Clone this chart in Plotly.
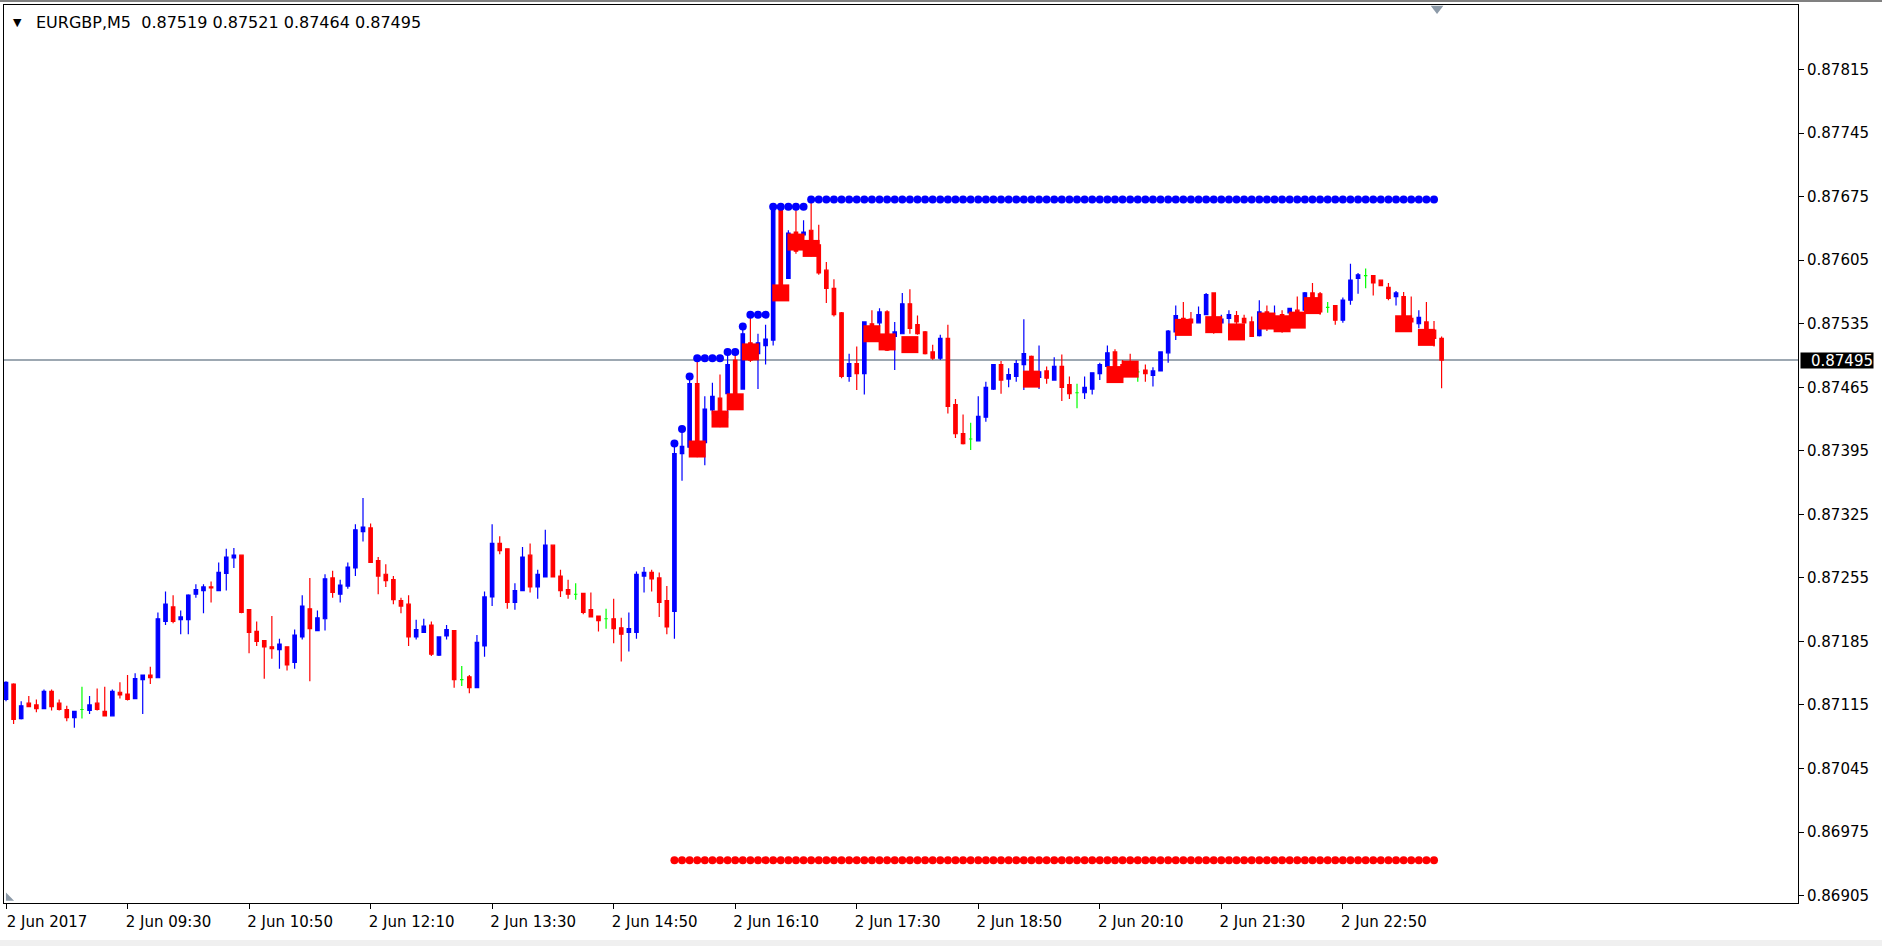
import plotly.graph_objects as go

# ---------------- data (EURGBP, M5, 2 Jun 2017 08:10 .. 23:55) ----------------
opens = [
    0.87121, 0.87138, 0.87100, 0.87117, 0.87115, 0.87111, 0.87130, 0.87117, 0.87110, 0.87101,
    0.87110, 0.87109, 0.87117, 0.87108, 0.87103, 0.87129, 0.87127, 0.87122, 0.87143, 0.87148,
    0.87145, 0.87207, 0.87223, 0.87209, 0.87209, 0.87237, 0.87241, 0.87245, 0.87241, 0.87260,
    0.87277, 0.87280, 0.87220, 0.87196, 0.87186, 0.87179, 0.87176, 0.87179, 0.87162, 0.87190,
    0.87221, 0.87197, 0.87210, 0.87255, 0.87237, 0.87246, 0.87266, 0.87306, 0.87310, 0.87274,
    0.87259, 0.87253, 0.87230, 0.87226, 0.87190, 0.87195, 0.87203, 0.87170, 0.87191, 0.87197,
    0.87143, 0.87146, 0.87134, 0.87180, 0.87234, 0.87293, 0.87287, 0.87228, 0.87241, 0.87280,
    0.87245, 0.87256, 0.87291, 0.87257, 0.87242, 0.87237, 0.87238, 0.87220, 0.87213, 0.87210,
    0.87210, 0.87200, 0.87195, 0.87195, 0.87257, 0.87261, 0.87255, 0.87230, 0.87218, 0.87392,
    0.87399, 0.87469, 0.87404, 0.87440, 0.87453, 0.87458, 0.87495, 0.87463, 0.87514, 0.87502,
    0.87511, 0.87517, 0.87660, 0.87585, 0.87636, 0.87633, 0.87638, 0.87622, 0.87594, 0.87574,
    0.87547, 0.87477, 0.87491, 0.87480, 0.87535, 0.87536, 0.87548, 0.87521, 0.87524, 0.87557,
    0.87534, 0.87526, 0.87504, 0.87497, 0.87519, 0.87446, 0.87414, 0.87408, 0.87406, 0.87432,
    0.87463, 0.87490, 0.87474, 0.87477, 0.87490, 0.87499, 0.87476, 0.87483, 0.87473, 0.87488,
    0.87468, 0.87459, 0.87459, 0.87463, 0.87480, 0.87488, 0.87504, 0.87490, 0.87493, 0.87482,
    0.87484, 0.87478, 0.87483, 0.87503, 0.87526, 0.87541, 0.87540, 0.87536, 0.87545, 0.87569,
    0.87536, 0.87541, 0.87544, 0.87541, 0.87537, 0.87522, 0.87548, 0.87530, 0.87545, 0.87547,
    0.87550, 0.87550, 0.87569, 0.87568, 0.87553, 0.87555, 0.87539, 0.87561, 0.87585, 0.87588,
    0.87588, 0.87583, 0.87575, 0.87565, 0.87565, 0.87541, 0.87535, 0.87537, 0.87528, 0.87519,
]
highs = [
    0.87141, 0.87139, 0.87119, 0.87125, 0.87121, 0.87132, 0.87132, 0.87121, 0.87114, 0.87108,
    0.87135, 0.87125, 0.87133, 0.87135, 0.87132, 0.87140, 0.87148, 0.87150, 0.87148, 0.87157,
    0.87217, 0.87240, 0.87236, 0.87219, 0.87237, 0.87248, 0.87248, 0.87251, 0.87272, 0.87287,
    0.87288, 0.87280, 0.87220, 0.87207, 0.87186, 0.87213, 0.87188, 0.87179, 0.87198, 0.87236,
    0.87255, 0.87219, 0.87259, 0.87263, 0.87253, 0.87272, 0.87314, 0.87343, 0.87315, 0.87278,
    0.87270, 0.87257, 0.87233, 0.87236, 0.87209, 0.87210, 0.87207, 0.87190, 0.87203, 0.87197,
    0.87158, 0.87148, 0.87192, 0.87240, 0.87314, 0.87301, 0.87287, 0.87249, 0.87289, 0.87293,
    0.87264, 0.87308, 0.87291, 0.87264, 0.87253, 0.87249, 0.87238, 0.87239, 0.87213, 0.87221,
    0.87232, 0.87211, 0.87217, 0.87262, 0.87267, 0.87264, 0.87261, 0.87246, 0.87403, 0.87419,
    0.87477, 0.87497, 0.87455, 0.87470, 0.87479, 0.87504, 0.87502, 0.87532, 0.87545, 0.87524,
    0.87534, 0.87664, 0.87661, 0.87638, 0.87660, 0.87649, 0.87672, 0.87644, 0.87603, 0.87584,
    0.87548, 0.87502, 0.87510, 0.87537, 0.87550, 0.87552, 0.87550, 0.87537, 0.87569, 0.87573,
    0.87544, 0.87527, 0.87512, 0.87523, 0.87534, 0.87452, 0.87435, 0.87426, 0.87455, 0.87471,
    0.87490, 0.87494, 0.87486, 0.87495, 0.87540, 0.87500, 0.87511, 0.87488, 0.87498, 0.87501,
    0.87477, 0.87469, 0.87477, 0.87481, 0.87492, 0.87511, 0.87507, 0.87495, 0.87502, 0.87485,
    0.87490, 0.87487, 0.87504, 0.87528, 0.87555, 0.87559, 0.87548, 0.87554, 0.87569, 0.87569,
    0.87545, 0.87550, 0.87549, 0.87545, 0.87543, 0.87561, 0.87555, 0.87555, 0.87550, 0.87552,
    0.87565, 0.87570, 0.87580, 0.87570, 0.87559, 0.87555, 0.87564, 0.87601, 0.87591, 0.87596,
    0.87588, 0.87583, 0.87580, 0.87571, 0.87570, 0.87565, 0.87550, 0.87559, 0.87538, 0.87521,
]
lows = [
    0.87119, 0.87094, 0.87099, 0.87113, 0.87107, 0.87111, 0.87109, 0.87109, 0.87097, 0.87090,
    0.87100, 0.87105, 0.87109, 0.87103, 0.87103, 0.87122, 0.87120, 0.87122, 0.87105, 0.87138,
    0.87145, 0.87203, 0.87205, 0.87193, 0.87193, 0.87233, 0.87216, 0.87228, 0.87241, 0.87241,
    0.87266, 0.87216, 0.87172, 0.87180, 0.87144, 0.87166, 0.87155, 0.87153, 0.87155, 0.87187,
    0.87141, 0.87197, 0.87197, 0.87233, 0.87228, 0.87243, 0.87257, 0.87295, 0.87272, 0.87237,
    0.87245, 0.87226, 0.87216, 0.87180, 0.87187, 0.87195, 0.87169, 0.87169, 0.87187, 0.87134,
    0.87136, 0.87128, 0.87134, 0.87168, 0.87224, 0.87281, 0.87221, 0.87220, 0.87241, 0.87239,
    0.87232, 0.87256, 0.87256, 0.87234, 0.87232, 0.87231, 0.87215, 0.87212, 0.87196, 0.87199,
    0.87183, 0.87163, 0.87174, 0.87188, 0.87239, 0.87240, 0.87212, 0.87193, 0.87188, 0.87362,
    0.87395, 0.87388, 0.87379, 0.87435, 0.87421, 0.87431, 0.87440, 0.87463, 0.87493, 0.87463,
    0.87490, 0.87511, 0.87560, 0.87585, 0.87612, 0.87630, 0.87609, 0.87589, 0.87558, 0.87543,
    0.87475, 0.87471, 0.87462, 0.87457, 0.87517, 0.87532, 0.87505, 0.87484, 0.87524, 0.87524,
    0.87523, 0.87501, 0.87495, 0.87495, 0.87436, 0.87409, 0.87402, 0.87396, 0.87406, 0.87427,
    0.87462, 0.87458, 0.87465, 0.87471, 0.87462, 0.87468, 0.87463, 0.87469, 0.87473, 0.87450,
    0.87452, 0.87442, 0.87452, 0.87457, 0.87473, 0.87487, 0.87478, 0.87475, 0.87480, 0.87471,
    0.87471, 0.87466, 0.87483, 0.87492, 0.87517, 0.87525, 0.87535, 0.87536, 0.87545, 0.87524,
    0.87535, 0.87532, 0.87533, 0.87535, 0.87521, 0.87521, 0.87527, 0.87528, 0.87525, 0.87530,
    0.87532, 0.87548, 0.87561, 0.87545, 0.87547, 0.87534, 0.87536, 0.87556, 0.87568, 0.87574,
    0.87566, 0.87577, 0.87561, 0.87555, 0.87528, 0.87536, 0.87530, 0.87526, 0.87510, 0.87464,
]
closes = [
    0.87140, 0.87099, 0.87114, 0.87113, 0.87111, 0.87130, 0.87113, 0.87110, 0.87101, 0.87108,
    0.87110, 0.87115, 0.87110, 0.87103, 0.87130, 0.87126, 0.87121, 0.87144, 0.87148, 0.87145,
    0.87210, 0.87226, 0.87207, 0.87212, 0.87236, 0.87242, 0.87245, 0.87244, 0.87261, 0.87278,
    0.87280, 0.87217, 0.87195, 0.87185, 0.87179, 0.87177, 0.87182, 0.87159, 0.87192, 0.87224,
    0.87199, 0.87211, 0.87254, 0.87239, 0.87247, 0.87267, 0.87308, 0.87311, 0.87272, 0.87257,
    0.87252, 0.87231, 0.87224, 0.87190, 0.87198, 0.87202, 0.87171, 0.87190, 0.87198, 0.87143,
    0.87143, 0.87134, 0.87184, 0.87234, 0.87293, 0.87285, 0.87228, 0.87241, 0.87278, 0.87245,
    0.87259, 0.87291, 0.87256, 0.87241, 0.87237, 0.87237, 0.87217, 0.87212, 0.87208, 0.87210,
    0.87199, 0.87193, 0.87199, 0.87259, 0.87261, 0.87254, 0.87228, 0.87201, 0.87392, 0.87400,
    0.87469, 0.87389, 0.87441, 0.87455, 0.87422, 0.87490, 0.87458, 0.87524, 0.87495, 0.87514,
    0.87518, 0.87660, 0.87570, 0.87635, 0.87615, 0.87636, 0.87613, 0.87591, 0.87574, 0.87545,
    0.87477, 0.87491, 0.87480, 0.87537, 0.87519, 0.87548, 0.87506, 0.87526, 0.87557, 0.87530,
    0.87524, 0.87502, 0.87497, 0.87519, 0.87444, 0.87414, 0.87403, 0.87408, 0.87433, 0.87465,
    0.87490, 0.87473, 0.87479, 0.87491, 0.87502, 0.87469, 0.87482, 0.87475, 0.87488, 0.87465,
    0.87458, 0.87459, 0.87465, 0.87481, 0.87490, 0.87503, 0.87480, 0.87480, 0.87485, 0.87482,
    0.87480, 0.87483, 0.87504, 0.87527, 0.87544, 0.87536, 0.87536, 0.87545, 0.87567, 0.87543,
    0.87540, 0.87545, 0.87537, 0.87536, 0.87521, 0.87548, 0.87530, 0.87540, 0.87528, 0.87552,
    0.87535, 0.87569, 0.87563, 0.87548, 0.87553, 0.87539, 0.87561, 0.87583, 0.87589, 0.87588,
    0.87580, 0.87577, 0.87563, 0.87569, 0.87530, 0.87537, 0.87542, 0.87528, 0.87519, 0.87495,
]

# square markers of the indicator (bar index, price)
square_bars = [91, 94, 96, 98, 102, 104, 106, 114, 116, 119, 135, 146, 148,
               155, 159, 162, 166, 168, 170, 172, 184, 187]
square_prices = [0.87397, 0.87430, 0.87449, 0.87504, 0.87569, 0.87625, 0.87618,
                 0.87524, 0.87515, 0.87512, 0.87474, 0.87479, 0.87485, 0.87531,
                 0.87534, 0.87526, 0.87538, 0.87535, 0.87539, 0.87555, 0.87535, 0.87520]

# channel dots (bars 88..188)
dot_first_bar = 88
upper_dots = ([0.87403, 0.87419, 0.87477, 0.87497, 0.87497, 0.87497, 0.87497,
               0.87504, 0.87504, 0.87532, 0.87545, 0.87545, 0.87545,
               0.87664, 0.87664, 0.87664, 0.87664, 0.87664] + [0.87672] * 83)
lower_dots = [0.86944] * 101

x_tick_bars = [0, 16, 32, 48, 64, 80, 96, 112, 128, 144, 160, 176]
x_tick_labels = ["2 Jun 2017", "2 Jun 09:30", "2 Jun 10:50", "2 Jun 12:10",
                 "2 Jun 13:30", "2 Jun 14:50", "2 Jun 16:10", "2 Jun 17:30",
                 "2 Jun 18:50", "2 Jun 20:10", "2 Jun 21:30", "2 Jun 22:50"]
y_ticks = [0.86905, 0.86975, 0.87045, 0.87115, 0.87185, 0.87255, 0.87325,
           0.87395, 0.87465, 0.87535, 0.87605, 0.87675, 0.87745, 0.87815]

symbol_name = "EURGBP,M5"

# ---------------- figure ----------------
W, H = 1882, 946
ML, MR, MT, MB = 4, 84, 5, 43
Y_RANGE = [0.868968, 0.878862]
X_RANGE = [-0.263, 235.92]
FONT = "DejaVu Sans"

n = len(closes)
bars = list(range(n))
is_doji = [o == c for o, c in zip(opens, closes)]

def pick(vals, keep):
    return [v if k else None for v, k in zip(vals, keep)]

not_doji = [not d for d in is_doji]

fig = go.Figure()
fig.add_trace(go.Candlestick(
    x=bars, open=pick(opens, not_doji), high=pick(highs, not_doji),
    low=pick(lows, not_doji), close=pick(closes, not_doji),
    increasing=dict(line=dict(color="#0000FF", width=1.2), fillcolor="#0000FF"),
    decreasing=dict(line=dict(color="#FF0000", width=1.2), fillcolor="#FF0000"),
    hoverinfo="skip", showlegend=False))
fig.add_trace(go.Candlestick(
    x=bars, open=pick(opens, is_doji), high=pick(highs, is_doji),
    low=pick(lows, is_doji), close=pick(closes, is_doji),
    increasing=dict(line=dict(color="#00FF00", width=1.2), fillcolor="#00FF00"),
    decreasing=dict(line=dict(color="#00FF00", width=1.2), fillcolor="#00FF00"),
    hoverinfo="skip", showlegend=False))

fig.add_trace(go.Scatter(
    x=square_bars, y=square_prices, mode="markers",
    marker=dict(symbol="square", size=17, color="#FF0000"),
    hoverinfo="skip", showlegend=False))

dot_bars = list(range(dot_first_bar, dot_first_bar + len(upper_dots)))
fig.add_trace(go.Scatter(
    x=dot_bars, y=upper_dots, mode="markers",
    marker=dict(symbol="circle", size=8, color="#0000FF"),
    hoverinfo="skip", showlegend=False))
fig.add_trace(go.Scatter(
    x=dot_bars, y=lower_dots, mode="markers",
    marker=dict(symbol="circle", size=8, color="#FF0000"),
    hoverinfo="skip", showlegend=False))

# chart-shift markers (MT4 decorations)
px_per_unit = (H - MT - MB) / (Y_RANGE[1] - Y_RANGE[0])
fig.add_trace(go.Scatter(
    x=[n - 1 - 0.6], y=[Y_RANGE[1] - 3.5 / px_per_unit], mode="markers",
    marker=dict(symbol="triangle-down", size=11, color="#8c9aa8"),
    cliponaxis=False, hoverinfo="skip", showlegend=False))
fig.add_trace(go.Scatter(
    x=[0.35], y=[Y_RANGE[0] + 5 / px_per_unit], mode="markers",
    marker=dict(symbol="triangle-sw", size=9, color="#8c9aa8"),
    cliponaxis=False, hoverinfo="skip", showlegend=False))

last_close = closes[-1]
plot_w = W - ML - MR
plot_h = H - MT - MB

fig.update_layout(
    width=W, height=H, autosize=False,
    margin=dict(l=ML, r=MR, t=MT, b=MB, pad=0),
    paper_bgcolor="white", plot_bgcolor="white",
    showlegend=False, boxgap=0.35, boxgroupgap=0.3,
    font=dict(family=FONT, size=15, color="black"),
    xaxis=dict(
        range=X_RANGE, rangeslider=dict(visible=False), showgrid=False,
        zeroline=False, showline=True, linecolor="black", linewidth=1,
        mirror=True, ticks="outside", ticklen=5, tickcolor="black",
        tickvals=x_tick_bars, ticktext=x_tick_labels, ticklabelshift=41,
        tickfont=dict(family=FONT, size=15, color="black"),
    ),
    yaxis=dict(
        side="right", range=Y_RANGE, showgrid=False, zeroline=False,
        showline=True, linecolor="black", linewidth=1, mirror=True,
        ticks="outside", ticklen=5, tickcolor="black",
        tickvals=y_ticks, tickformat=".5f",
        tickfont=dict(family=FONT, size=15, color="black"),
    ),
    shapes=[
        dict(type="line", xref="paper", x0=0, x1=1, yref="y",
             y0=last_close, y1=last_close,
             line=dict(color="#7d8b99", width=1.5), layer="below"),
        dict(type="line", xref="paper", yref="paper",
             x0=-ML / plot_w, x1=1 + MR / plot_w,
             y0=1 + (MT - 1) / plot_h, y1=1 + (MT - 1) / plot_h,
             line=dict(color="#808080", width=2)),
        dict(type="rect", xref="paper", yref="paper",
             x0=-ML / plot_w, x1=1 + MR / plot_w,
             y0=-(MB) / plot_h, y1=-(MB - 6) / plot_h,
             fillcolor="#f0f0f0", line=dict(width=0)),
    ],
    annotations=[
        dict(text="▼", xref="paper", yref="paper", x=0, y=1,
             xanchor="left", yanchor="middle", xshift=7, yshift=-17,
             showarrow=False, font=dict(family=FONT, size=11, color="black")),
        dict(text=(symbol_name + "\u00a0\u00a0" +
                   " ".join(f"{v:.5f}" for v in (opens[-1], highs[-1], lows[-1], closes[-1]))),
             xref="paper", yref="paper", x=0, y=1,
             xanchor="left", yanchor="middle", xshift=30, yshift=-17,
             showarrow=False, font=dict(family=FONT, size=16, color="black")),
        dict(text=f"{last_close:.5f}", xref="paper", yref="y", x=1, y=last_close,
             xanchor="left", yanchor="middle", xshift=2, showarrow=False,
             bgcolor="black", borderpad=0, width=72, height=15, align="right",
             font=dict(family=FONT, size=15, color="white")),
    ],
)

fig.write_html(
    "out.html",
    config={"displayModeBar": False, "responsive": False},
    post_script="document.body.style.margin='0';document.body.style.overflow='hidden';",
)
